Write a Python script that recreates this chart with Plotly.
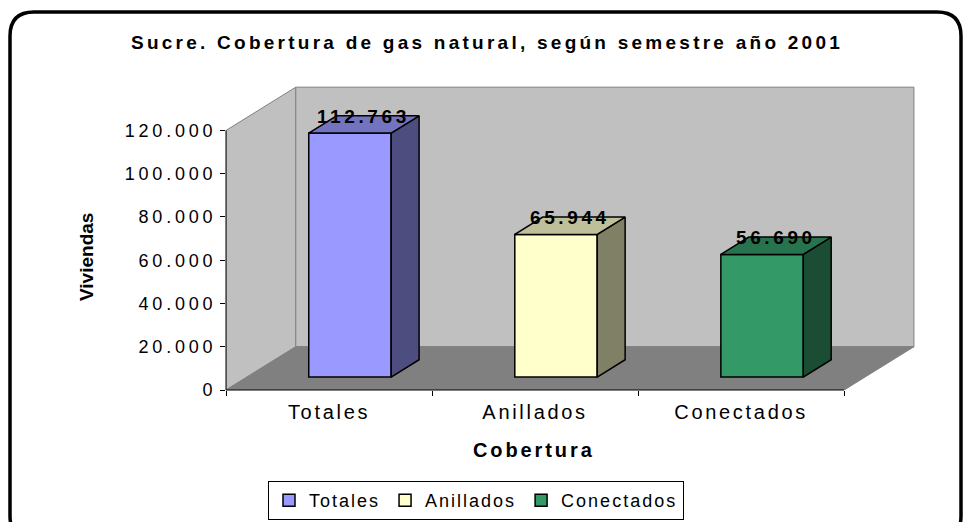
import plotly.graph_objects as go

# data
categories = ["Totales", "Anillados", "Conectados"]
viviendas = [112763, 65944, 56690]
y_ticks = [0, 20000, 40000, 60000, 80000, 100000, 120000]
y_tick_labels = ["0", "20.000", "40.000", "60.000", "80.000", "100.000", "120.000"]

front_colors = ["#9999FF", "#FFFFCC", "#339966"]
top_colors = ["#7373BF", "#BFBF99", "#26734D"]
side_colors = ["#4D4D80", "#808066", "#1A4D33"]

FONT = "Liberation Sans, Arial, sans-serif"

# plot area in pixels
W, H = 964, 522
L, R, T, B = 226, 48, 85, 132
PW, PH = W - L - R, H - T - B

# depth of the pseudo 3d box, in data units
DX = 0.3387
DY = 20000
X0, X1 = -0.5, 2.5
YMAX = 141000
XMAX = X1 + DX + 0.01

BAR_W = 0.4
FRONT = 0.3
DEPTH = 0.4


def sp(text, px):
    return f'<span style="letter-spacing:{px}px">{text}</span>'


def px_x(px):
    return (px - L) / PW


def px_y(py):
    return (H - B - py) / PH


def poly(pts):
    return "M " + " L ".join(f"{x},{y}" for x, y in pts) + " Z"


fig = go.Figure()

# walls and floor
shapes = [
    dict(type="path", layer="below", xref="x", yref="y",
         path=poly([(X0, 0), (X0, 120000), (X0 + DX, 120000 + DY), (X0 + DX, DY)]),
         fillcolor="#C0C0C0", line=dict(color="#808080", width=1)),
    dict(type="path", layer="below", xref="x", yref="y",
         path=poly([(X0 + DX, DY), (X1 + DX, DY), (X1 + DX, 120000 + DY), (X0 + DX, 120000 + DY)]),
         fillcolor="#C0C0C0", line=dict(color="#808080", width=1)),
    dict(type="path", layer="below", xref="x", yref="y",
         path=poly([(X0, 0), (X1, 0), (X1 + DX, DY), (X0 + DX, DY)]),
         fillcolor="#808080", line=dict(color="#808080", width=1)),
    # axis lines
    dict(type="line", xref="x", yref="paper", x0=X0, x1=X1, y0=0, y1=0,
         line=dict(color="black", width=1)),
    dict(type="line", xref="paper", yref="y", x0=0, x1=0, y0=0, y1=y_ticks[-1],
         line=dict(color="black", width=1)),
]

# rounded outer frame
bx0, by0, bx1, by1, r = 10, 12, 961, 540, 24
frame_pts = [
    ("M", bx0 + r, by0), ("L", bx1 - r, by0), ("Q", bx1, by0, bx1, by0 + r),
    ("L", bx1, by1 - r), ("Q", bx1, by1, bx1 - r, by1), ("L", bx0 + r, by1),
    ("Q", bx0, by1, bx0, by1 - r), ("L", bx0, by0 + r), ("Q", bx0, by0, bx0 + r, by0),
]
frame_path = ""
for seg in frame_pts:
    cmd, coords = seg[0], seg[1:]
    pairs = [f"{px_x(coords[i])},{px_y(coords[i + 1])}" for i in range(0, len(coords), 2)]
    frame_path += cmd + " " + " ".join(pairs) + " "
shapes.append(dict(type="path", xref="paper", yref="paper", path=frame_path + "Z",
                   line=dict(color="black", width=3.5)))

annotations = []
for i, (cat, v) in enumerate(zip(categories, viviendas)):
    xc = i + FRONT * DX
    y0 = FRONT * DY
    y1 = y0 + v
    xa, xb = xc - BAR_W / 2, xc + BAR_W / 2
    ddx, ddy = DEPTH * DX, DEPTH * DY

    fig.add_trace(go.Bar(
        x=[xc], y=[v], base=[y0], width=[BAR_W],
        name=sp(cat, 2.0),
        marker=dict(color=front_colors[i], line=dict(color="black", width=1.5)),
        hoverinfo="skip",
    ))
    side = [(xb, y0), (xb + ddx, y0 + ddy), (xb + ddx, y1 + ddy), (xb, y1), (xb, y0)]
    top = [(xa, y1), (xb, y1), (xb + ddx, y1 + ddy), (xa + ddx, y1 + ddy), (xa, y1)]
    for pts, col in ((side, side_colors[i]), (top, top_colors[i])):
        fig.add_trace(go.Scatter(
            x=[p[0] for p in pts], y=[p[1] for p in pts],
            fill="toself", fillcolor=col, mode="lines",
            line=dict(color="black", width=1.5),
            showlegend=False, hoverinfo="skip",
        ))
    label = f"{v:,}".replace(",", ".")
    annotations.append(dict(
        x=xc + ddx / 2, y=y1 + ddy / 2, xref="x", yref="y",
        text=sp(label, 3.6), showarrow=False, yanchor="middle", yshift=8,
        font=dict(family=FONT, size=19, color="black", weight="bold"),
    ))

annotations.append(dict(
    x=px_x(86), y=px_y(257), xref="paper", yref="paper", textangle=-90,
    xanchor="center", yanchor="middle",
    text="Viviendas", showarrow=False,
    font=dict(family=FONT, size=19, color="black", weight="bold"),
))
annotations.append(dict(
    x=px_x(534), y=px_y(450), xref="paper", yref="paper",
    xanchor="center", yanchor="middle",
    text=sp("Cobertura", 2.9), showarrow=False,
    font=dict(family=FONT, size=20, color="black", weight="bold"),
))

fig.update_layout(
    width=W, height=H,
    margin=dict(l=L, r=R, t=T, b=B, autoexpand=False),
    paper_bgcolor="white", plot_bgcolor="rgba(0,0,0,0)",
    title=dict(
        text=sp("Sucre. Cobertura de gas natural, según semestre año 2001", 3.25),
        x=487 / W, xref="container", xanchor="center",
        y=1 - 42 / H, yref="container", yanchor="middle",
        font=dict(family=FONT, size=19, color="black", weight="bold"),
    ),
    xaxis=dict(
        range=[X0, XMAX], showgrid=False, zeroline=False, showline=False,
        automargin=False,
        tickmode="array", tickvals=[0, 1, 2], ticktext=[sp(c, 2.7) for c in categories],
        ticks="", tickfont=dict(family=FONT, size=20, color="black"),
        ticklabelstandoff=8,
        minor=dict(tickmode="array", tickvals=[-0.5, 0.5, 1.5, 2.5], ticks="outside",
                   ticklen=5, tickcolor="black", tickwidth=1),
    ),
    yaxis=dict(
        range=[0, YMAX], showgrid=False, zeroline=False, showline=False,
        automargin=False,
        tickmode="array", tickvals=y_ticks, ticktext=[sp(t, 3.8) for t in y_tick_labels],
        ticks="outside", ticklen=5, tickcolor="black",
        tickfont=dict(family=FONT, size=18, color="black"),
    ),
    showlegend=True,
    legend=dict(
        orientation="h", x=px_x(476), xanchor="center", y=px_y(520), yanchor="bottom",
        bordercolor="black", borderwidth=1, bgcolor="white",
        font=dict(family=FONT, size=18, color="black"),
        itemwidth=30, tracegroupgap=0,
    ),
    shapes=shapes,
    annotations=annotations,
    barmode="overlay",
)

# the page's default body margin would push the figure 8px off
fig.write_html("out.html", config={"displayModeBar": False},
               post_script="document.body.style.margin='0';")
